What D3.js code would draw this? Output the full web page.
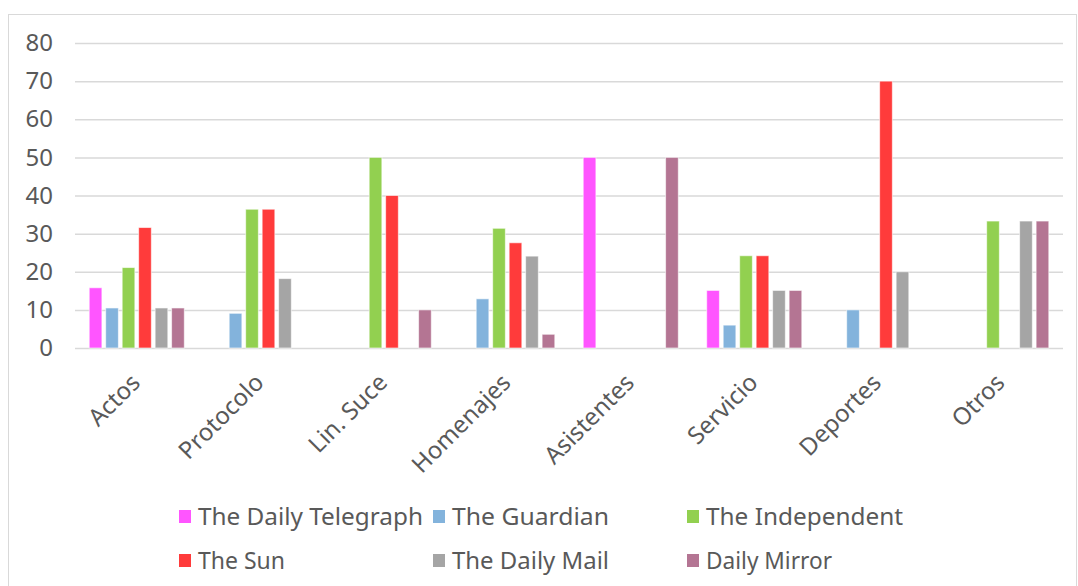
<!DOCTYPE html>
<html><head><meta charset="utf-8">
<script src="https://cdn.jsdelivr.net/npm/d3@7"></script>
<style>body{margin:0;background:#fff;}svg{display:block;}</style>
</head><body>
<svg id="c" width="1078" height="586"></svg>
<script>
const categories = ["Actos","Protocolo","Lin. Suce","Homenajes","Asistentes","Servicio","Deportes","Otros"];
const seriesNames = ["The Daily Telegraph","The Guardian","The Independent","The Sun","The Daily Mail","Daily Mirror"];
const seriesColors = ["#ff55ff","#83b3dc","#92d050","#ff3b3b","#a5a5a5","#b47593"];
const dailyTelegraph = [15.8, 0, 0, 0, 50, 15.1, 0, 0];
const guardian       = [10.5, 9.1, 0, 12.9, 0, 6.0, 10, 0];
const independent    = [21.1, 36.4, 50, 31.4, 0, 24.2, 0, 33.3];
const sun            = [31.6, 36.4, 40, 27.6, 0, 24.2, 70, 0];
const dailyMail      = [10.5, 18.2, 0, 24.1, 0, 15.1, 20, 33.3];
const dailyMirror    = [10.5, 0, 10, 3.6, 50, 15.1, 0, 33.3];
const yTicks = [0,10,20,30,40,50,60,70,80];

(function(){
const series = [dailyTelegraph, guardian, independent, sun, dailyMail, dailyMirror];
const font = "'Noto Sans', sans-serif";
const txt = "#595959";
const svg = d3.select("#c");

svg.append("rect").attr("x",8.5).attr("y",14.5).attr("width",1068).attr("height",620)
  .attr("fill","#fff").attr("stroke","#d9d9d9").attr("stroke-width",1);

const pl = 75, pr = 1063, pt = 43, pb = 348;
const x0 = d3.scaleBand().domain(categories).range([pl,pr]).paddingInner(0.23).paddingOuter(0.115);
const x1 = d3.scaleBand().domain(d3.range(series.length)).range([0,x0.bandwidth()]).paddingInner(0.23);
const y = d3.scaleLinear().domain([0,80]).range([pb,pt]);

const yAxis = svg.append("g").attr("transform",`translate(${pl},0)`)
  .call(d3.axisLeft(y).tickValues(yTicks).tickSize(-(pr-pl)).tickPadding(22));
yAxis.select(".domain").remove();
yAxis.selectAll(".tick line").attr("stroke","#d9d9d9").attr("stroke-width",1.5);
yAxis.selectAll(".tick text").attr("fill",txt).style("font-family",font).style("font-size","24px");

const xb = d3.scaleBand().domain(categories).range([pl,pr]);
const g = svg.append("g");
categories.forEach((c,ci)=>{
  series.forEach((s,si)=>{
    if (s[ci] <= 0) return;
    g.append("rect")
      .attr("x", x0(c)+x1(si))
      .attr("y", y(s[ci]))
      .attr("width", x1.bandwidth())
      .attr("height", y(0)-y(s[ci]))
      .attr("fill", seriesColors[si])
      .attr("stroke","#fff").attr("stroke-opacity",0.6).attr("stroke-width",1);
  });
});

const xAxis = svg.append("g").attr("transform",`translate(0,${pb})`)
  .call(d3.axisBottom(xb).tickSize(0).tickPadding(0));
xAxis.select(".domain").remove();
xAxis.selectAll(".tick text")
  .attr("fill",txt).style("font-family",font).style("font-size","24px")
  .attr("text-anchor","end").attr("dy","0")
  .attr("transform","translate(5,36) rotate(-45)");

const legendPos = [[179,525],[433,525],[687,525],[179,569],[433,569],[687,569]];
const legendWidths = [225,157,197,87,157,126];
const leg = svg.append("g");
seriesNames.forEach((n,i)=>{
  const [lx,ly] = legendPos[i];
  leg.append("rect").attr("x",lx).attr("y",ly-15).attr("width",12).attr("height",13).attr("fill",seriesColors[i]);
  leg.append("text").attr("x",lx+19).attr("y",ly)
    .attr("textLength",legendWidths[i]).attr("lengthAdjust","spacingAndGlyphs")
    .attr("fill",txt).style("font-family",font).style("font-size","24px").text(n);
});
})();
</script>
</body></html>
